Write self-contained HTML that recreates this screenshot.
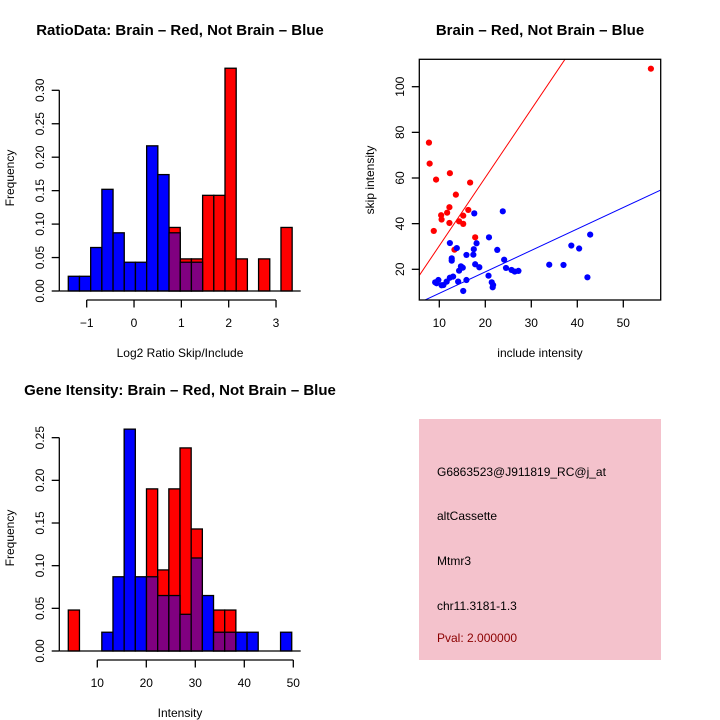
<!DOCTYPE html>
<html><head><meta charset="utf-8"><style>
body{margin:0;background:#fff;}
svg{display:block;font-family:"Liberation Sans",sans-serif;}
</style></head><body>
<svg id="c" width="720" height="720" viewBox="0 0 720 720">
<rect x="0" y="0" width="720" height="720" fill="#fff"/>
<text x="180" y="35" text-anchor="middle" font-size="15" font-weight="bold">RatioData: Brain – Red, Not Brain – Blue</text>
<text x="540" y="35" text-anchor="middle" font-size="15" font-weight="bold">Brain – Red, Not Brain – Blue</text>
<text x="180" y="395" text-anchor="middle" font-size="15" font-weight="bold">Gene Itensity: Brain – Red, Not Brain – Blue</text>
<text x="180" y="357" text-anchor="middle" font-size="12">Log2 Ratio Skip/Include</text>
<text transform="translate(14,178) rotate(-90)" text-anchor="middle" font-size="12">Frequency</text>
<text x="540" y="357" text-anchor="middle" font-size="12">include intensity</text>
<text transform="translate(374,180) rotate(-90)" text-anchor="middle" font-size="12">skip intensity</text>
<text x="180" y="717" text-anchor="middle" font-size="12">Intensity</text>
<text transform="translate(14,538) rotate(-90)" text-anchor="middle" font-size="12">Frequency</text>
<g id="g1"></g>
<g id="g2"></g>
<g id="g3"></g>
<g>
<rect x="419" y="419" width="242" height="241" fill="#f4c2cc"/>
<text x="437" y="476" font-size="12">G6863523@J911819_RC@j_at</text>
<text x="437" y="520" font-size="12">altCassette</text>
<text x="437" y="565" font-size="12">Mtmr3</text>
<text x="437" y="610" font-size="12">chr11.3181-1.3</text>
<text x="437" y="642" font-size="12" fill="#8b0000">Pval: 2.000000</text>
</g>
</svg>
<script>
// Ratio histogram data
const ratioStart = -1.389, ratioBinW = 0.2365;
const ratioBlue = [0.022,0.022,0.065,0.152,0.087,0.043,0.043,0.217,0.174,0.087,0.043,0.043,0,0,0,0,0,0,0,0];
const ratioRed  = [0,0,0,0,0,0,0,0,0,0.095,0.048,0.048,0.143,0.143,0.333,0.048,0,0.048,0,0.095];
const ratioXTicks = [-1,0,1,2,3];
const ratioYTicks = [0,0.05,0.10,0.15,0.20,0.25,0.30];
const ratioYLabels = ["0.00","0.05","0.10","0.15","0.20","0.25","0.30"];
// Intensity histogram data
const intStart = 4.08, intBinW = 2.28;
const intBlue = [0,0,0,0.022,0.087,0.26,0.087,0.087,0.065,0.065,0.043,0.109,0.065,0.022,0.022,0.022,0.022,0,0,0.022];
const intRed  = [0.048,0,0,0,0,0,0,0.19,0.095,0.19,0.238,0.143,0,0.048,0.048,0,0,0,0,0];
const intXTicks = [10,20,30,40,50];
const intYTicks = [0,0.05,0.10,0.15,0.20,0.25];
const intYLabels = ["0.00","0.05","0.10","0.15","0.20","0.25"];
// Scatter data
const redInclude = [7.75,7.9,9.3,12.3,8.8,16.7,13.6,10.4,10.5,11.7,12.2,12.2,14.3,15.2,15.2,16.3,17.8,13.3,56.0];
const redSkip    = [75.5,66.3,59.3,62.1,36.8,58.0,52.7,43.7,41.8,44.8,47.2,40.3,41.0,43.5,39.9,46.0,34.0,28.6,107.9];
const blueInclude = [17.6,23.8,12.3,13.8,18.1,17.5,15.9,12.7,12.7,17.4,20.8,22.6,24.1,24.5,17.8,18.7,14.7,15.1,14.3,15.9,15.2,20.7,21.4,21.6,21.7,25.7,26.4,27.2,33.9,37.0,38.7,40.4,42.8,42.2,9.4,9.8,10.5,11.6,12.3,13.0,14.1,10.9,9.1];
const blueSkip    = [44.5,45.4,31.5,29.3,31.4,28.8,26.3,24.8,23.8,26.4,34.0,28.5,24.2,20.6,22.2,20.9,21.3,20.7,19.4,15.3,10.5,17.2,14.3,12.1,13.1,19.7,19.0,19.3,22.0,21.9,30.4,29.1,35.2,16.5,13.9,15.3,13.0,14.6,16.3,16.8,14.6,13.1,14.3];
const redSlope = 2.99, redIntercept = 0.4;
const blueSlope = 0.94, blueIntercept = 0.07;
const sxTicks = [10,20,30,40,50];
const syTicks = [20,40,60,80,100];

const NS = "http://www.w3.org/2000/svg";
function mk(parent, tag, attrs){const e=document.createElementNS(NS,tag);for(const k in attrs)e.setAttribute(k,attrs[k]);parent.appendChild(e);return e;}

function hist(g, start, bw, blue, red, xTicks, yTicks, yLabels, xs, ys, axisY, prefix){
  const y0 = ys(0);
  for(let i=0;i<red.length;i++){
    const a=start+i*bw, b=a+bw;
    const x1=xs(a), x2=xs(b), w=x2-x1;
    if(red[i]>0){
      const r=mk(g,'rect',{x:x1,y:ys(red[i]),width:w,height:y0-ys(red[i]),fill:'#ff0000',stroke:'#000','stroke-width':1.3});
      
      
    }
  }
  for(let i=0;i<blue.length;i++){
    const a=start+i*bw, b=a+bw;
    const x1=xs(a), x2=xs(b), w=x2-x1;
    if(blue[i]>0){
      const both = red[i]>0;
      const h = both ? Math.min(blue[i],red[i]) : blue[i];
      if(both && red[i]<blue[i]){
        const r0=mk(g,'rect',{x:x1,y:ys(blue[i]),width:w,height:y0-ys(blue[i]),fill:'#0000ff',stroke:'#000','stroke-width':1.3});
        
        
      }
      const r=mk(g,'rect',{x:x1,y:ys(h),width:w,height:y0-ys(h),fill:both?'#800080':'#0000ff',stroke:'#000','stroke-width':1.3});
      
      
    }
  }
  mk(g,'line',{x1:59.3,y1:y0,x2:300.7,y2:y0,stroke:'#000','stroke-width':1.3});
  const ya=mk(g,'line',{x1:59.3,y1:ys(yTicks[0]),x2:59.3,y2:ys(yTicks[yTicks.length-1]),stroke:'#000','stroke-width':1.3});
  
  
  yTicks.forEach((v,i)=>{
    const y=ys(v);
    mk(g,'line',{x1:51.7,y1:y,x2:59.3,y2:y,stroke:'#000','stroke-width':1.3});
    const t=mk(g,'text',{transform:`translate(44,${y}) rotate(-90)`,'text-anchor':'middle','font-size':12});
    t.textContent=yLabels[i];
    
    
  });
  const xa=mk(g,'line',{x1:xs(xTicks[0]),y1:axisY,x2:xs(xTicks[xTicks.length-1]),y2:axisY,stroke:'#000','stroke-width':1.3});
  
  
  xTicks.forEach(v=>{
    const x=xs(v);
    mk(g,'line',{x1:x,y1:axisY,x2:x,y2:axisY+7.5,stroke:'#000','stroke-width':1.3});
    const t=mk(g,'text',{x:x,y:axisY+27,'text-anchor':'middle','font-size':12});
    t.textContent=(v<0?'\u2212'+(-v):String(v));
    
    
  });
}

(function(){
  const g=document.getElementById('g1');
  const xs=v=>86.7+(v+1)*47.33;
  const ys=v=>291-v*669;
  hist(g,ratioStart,ratioBinW,ratioBlue,ratioRed,ratioXTicks,ratioYTicks,ratioYLabels,xs,ys,300,'ratio');
})();
(function(){
  const g=document.getElementById('g3');
  const xs=v=>97.3+(v-10)*4.9;
  const ys=v=>651-v*853.3;
  hist(g,intStart,intBinW,intBlue,intRed,intXTicks,intYTicks,intYLabels,xs,ys,660,'intensity');
})();
(function(){
  const g=document.getElementById('g2');
  const xs=v=>439.3+(v-10)*4.6;
  const ys=v=>269.3-(v-20)*2.2825;
  const L=419.3,R=660.7,T=59.3,B=300;
  const cp=mk(document.getElementById('c'),'clipPath',{id:'clipS'});
  mk(cp,'rect',{x:L,y:T,width:R-L,height:B-T});
  const lines=mk(g,'g',{'clip-path':'url(#clipS)'});
  const xmin=(L-439.3)/4.6+10, xmax=(R-439.3)/4.6+10;
  const rl=mk(lines,'line',{x1:xs(xmin),y1:ys(redSlope*xmin+redIntercept),x2:xs(xmax),y2:ys(redSlope*xmax+redIntercept),stroke:'#ff0000','stroke-width':1});
  
  
  const bl=mk(lines,'line',{x1:xs(xmin),y1:ys(blueSlope*xmin+blueIntercept),x2:xs(xmax),y2:ys(blueSlope*xmax+blueIntercept),stroke:'#0000ff','stroke-width':1});
  
  
  redInclude.forEach((v,i)=>{
    const c=mk(g,'circle',{cx:xs(v),cy:ys(redSkip[i]),r:3.1,fill:'#ff0000'});
    
    
  });
  blueInclude.forEach((v,i)=>{
    const c=mk(g,'circle',{cx:xs(v),cy:ys(blueSkip[i]),r:3.1,fill:'#0000ff'});
    
    
  });
  const box=mk(g,'rect',{x:L,y:T,width:R-L,height:B-T,fill:'none',stroke:'#000','stroke-width':1.3});
  
  
  sxTicks.forEach(v=>{
    const x=xs(v);
    mk(g,'line',{x1:x,y1:B,x2:x,y2:B+7.5,stroke:'#000','stroke-width':1.3});
    const t=mk(g,'text',{x:x,y:B+27,'text-anchor':'middle','font-size':12});
    t.textContent=String(v);
    
    
  });
  syTicks.forEach(v=>{
    const y=ys(v);
    mk(g,'line',{x1:L-7.5,y1:y,x2:L,y2:y,stroke:'#000','stroke-width':1.3});
    const t=mk(g,'text',{transform:`translate(404,${y}) rotate(-90)`,'text-anchor':'middle','font-size':12});
    t.textContent=String(v);
    
    
  });
})();
</script>
</body></html>
